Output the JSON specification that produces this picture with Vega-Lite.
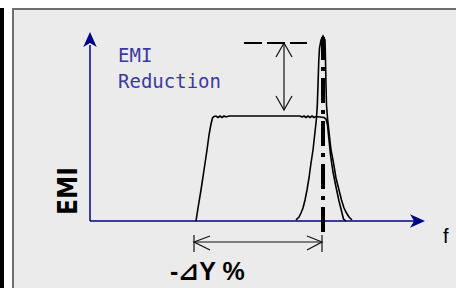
{
  "$schema": "https://vega.github.io/schema/vega-lite/v6.json",
  "width": 456,
  "height": 288,
  "autosize": {"type": "none"},
  "padding": 0,
  "background": "#ffffff",
  "config": {"view": {"stroke": null}},
  "datasets": {
    "curves": [
      {"id": "plateau", "o": 1, "x": 106, "y": 0},
      {"id": "plateau", "o": 2, "x": 108, "y": 13},
      {"id": "plateau", "o": 3, "x": 111, "y": 31},
      {"id": "plateau", "o": 4, "x": 114, "y": 51},
      {"id": "plateau", "o": 5, "x": 117, "y": 71},
      {"id": "plateau", "o": 6, "x": 119, "y": 86},
      {"id": "plateau", "o": 7, "x": 121, "y": 97},
      {"id": "plateau", "o": 8, "x": 122.5, "y": 103},
      {"id": "plateau", "o": 9, "x": 124, "y": 104.5},
      {"id": "plateau", "o": 10, "x": 126, "y": 105},
      {"id": "plateau", "o": 11, "x": 128, "y": 103.5},
      {"id": "plateau", "o": 12, "x": 130, "y": 105},
      {"id": "plateau", "o": 13, "x": 132, "y": 103.5},
      {"id": "plateau", "o": 14, "x": 134, "y": 105},
      {"id": "plateau", "o": 15, "x": 136, "y": 104},
      {"id": "plateau", "o": 16, "x": 139, "y": 105},
      {"id": "plateau", "o": 17, "x": 210, "y": 105},
      {"id": "plateau", "o": 18, "x": 212, "y": 104},
      {"id": "plateau", "o": 19, "x": 214, "y": 105},
      {"id": "plateau", "o": 20, "x": 216, "y": 103.5},
      {"id": "plateau", "o": 21, "x": 218, "y": 105},
      {"id": "plateau", "o": 22, "x": 220, "y": 103.5},
      {"id": "plateau", "o": 23, "x": 222, "y": 105},
      {"id": "plateau", "o": 24, "x": 224, "y": 103.5},
      {"id": "plateau", "o": 25, "x": 226, "y": 104.5},
      {"id": "plateau", "o": 26, "x": 230, "y": 104},
      {"id": "plateau", "o": 27, "x": 234, "y": 103.5},
      {"id": "plateau", "o": 28, "x": 236, "y": 102},
      {"id": "plateau", "o": 29, "x": 237.5, "y": 96},
      {"id": "plateau", "o": 30, "x": 239, "y": 81},
      {"id": "plateau", "o": 31, "x": 240.5, "y": 66},
      {"id": "plateau", "o": 32, "x": 243, "y": 49},
      {"id": "plateau", "o": 33, "x": 246, "y": 34},
      {"id": "plateau", "o": 34, "x": 249, "y": 20},
      {"id": "plateau", "o": 35, "x": 252, "y": 8},
      {"id": "plateau", "o": 36, "x": 253.5, "y": 2},
      {"id": "plateau", "o": 37, "x": 256, "y": 0},
      {"id": "spike", "o": 1, "x": 206, "y": 1},
      {"id": "spike", "o": 2, "x": 209, "y": 4},
      {"id": "spike", "o": 3, "x": 211, "y": 8},
      {"id": "spike", "o": 4, "x": 213, "y": 13},
      {"id": "spike", "o": 5, "x": 215, "y": 21},
      {"id": "spike", "o": 6, "x": 217, "y": 31},
      {"id": "spike", "o": 7, "x": 219, "y": 43},
      {"id": "spike", "o": 8, "x": 221, "y": 58},
      {"id": "spike", "o": 9, "x": 223, "y": 71},
      {"id": "spike", "o": 10, "x": 225, "y": 89},
      {"id": "spike", "o": 11, "x": 226.5, "y": 103},
      {"id": "spike", "o": 12, "x": 227.3, "y": 116},
      {"id": "spike", "o": 13, "x": 228, "y": 136},
      {"id": "spike", "o": 14, "x": 228.8, "y": 161},
      {"id": "spike", "o": 15, "x": 229.5, "y": 173},
      {"id": "spike", "o": 16, "x": 231, "y": 181},
      {"id": "spike", "o": 17, "x": 233, "y": 185},
      {"id": "spike", "o": 18, "x": 235, "y": 181},
      {"id": "spike", "o": 19, "x": 235.5, "y": 161},
      {"id": "spike", "o": 20, "x": 236, "y": 136},
      {"id": "spike", "o": 21, "x": 236.5, "y": 116},
      {"id": "spike", "o": 22, "x": 237.5, "y": 103},
      {"id": "spike", "o": 23, "x": 239, "y": 89},
      {"id": "spike", "o": 24, "x": 241, "y": 71},
      {"id": "spike", "o": 25, "x": 243.5, "y": 58},
      {"id": "spike", "o": 26, "x": 246, "y": 43},
      {"id": "spike", "o": 27, "x": 249, "y": 31},
      {"id": "spike", "o": 28, "x": 251.5, "y": 21},
      {"id": "spike", "o": 29, "x": 254, "y": 13},
      {"id": "spike", "o": 30, "x": 256.5, "y": 8},
      {"id": "spike", "o": 31, "x": 259, "y": 4},
      {"id": "spike", "o": 32, "x": 262, "y": 1}
    ],
    "thin": [
      {"id": "da", "o": 1, "x": 194, "y": 178},
      {"id": "da", "o": 2, "x": 194, "y": 111},
      {"id": "dah1", "o": 1, "x": 186, "y": 164},
      {"id": "dah1", "o": 2, "x": 194, "y": 178},
      {"id": "dah1", "o": 3, "x": 202, "y": 164},
      {"id": "dah2", "o": 1, "x": 186, "y": 125},
      {"id": "dah2", "o": 2, "x": 194, "y": 111},
      {"id": "dah2", "o": 3, "x": 202, "y": 125},
      {"id": "hs", "o": 1, "x": 104, "y": -21},
      {"id": "hs", "o": 2, "x": 232, "y": -21},
      {"id": "t1", "o": 1, "x": 104, "y": -14},
      {"id": "t1", "o": 2, "x": 104, "y": -31},
      {"id": "t2", "o": 1, "x": 232, "y": -14},
      {"id": "t2", "o": 2, "x": 232, "y": -31},
      {"id": "hh1", "o": 1, "x": 120, "y": -15},
      {"id": "hh1", "o": 2, "x": 104, "y": -21},
      {"id": "hh1", "o": 3, "x": 120, "y": -29},
      {"id": "hh2", "o": 1, "x": 217, "y": -15},
      {"id": "hh2", "o": 2, "x": 232, "y": -21},
      {"id": "hh2", "o": 3, "x": 217, "y": -29}
    ]
  },
  "layer": [
    {
      "data": {"values": [{"x": -90, "x2": -86, "y": -67, "y2": 213}]},
      "mark": {"type": "rect", "color": "#000000"},
      "encoding": {
        "x": {"field": "x", "type": "quantitative", "scale": {"domain": [-90, 366], "nice": false, "zero": false}, "axis": null},
        "x2": {"field": "x2"},
        "y": {"field": "y", "type": "quantitative", "scale": {"domain": [-67, 221], "nice": false, "zero": false}, "axis": null},
        "y2": {"field": "y2"}
      }
    },
    {
      "data": {"values": [{"x": -77, "x2": 380, "y": -80, "y2": 212}]},
      "mark": {"type": "rect", "fill": "#ebebeb", "stroke": "#6e6e6e", "strokeWidth": 2},
      "encoding": {
        "x": {"field": "x", "type": "quantitative", "scale": {"domain": [-90, 366], "nice": false, "zero": false}, "axis": null},
        "x2": {"field": "x2"},
        "y": {"field": "y", "type": "quantitative", "scale": {"domain": [-67, 221], "nice": false, "zero": false}, "axis": null},
        "y2": {"field": "y2"}
      }
    },
    {
      "data": {"values": [{"x": 0, "y": 0, "x2": 0, "y2": 176}, {"x": 0, "y": 0, "x2": 325, "y2": 0}]},
      "mark": {"type": "rule", "color": "#000088", "strokeWidth": 1.5},
      "encoding": {
        "x": {"field": "x", "type": "quantitative", "scale": {"domain": [-90, 366], "nice": false, "zero": false}, "axis": null},
        "x2": {"field": "x2"},
        "y": {"field": "y", "type": "quantitative", "scale": {"domain": [-67, 221], "nice": false, "zero": false}, "axis": null},
        "y2": {"field": "y2"}
      }
    },
    {
      "data": {"values": [{"x": 0, "y": 181.5}]},
      "mark": {"type": "point", "shape": "M0,-1L0.9,1L0,0.45L-0.9,1Z", "size": 225, "filled": true, "color": "#000088", "opacity": 1, "strokeWidth": 0},
      "encoding": {
        "x": {"field": "x", "type": "quantitative", "scale": {"domain": [-90, 366], "nice": false, "zero": false}, "axis": null},
        "y": {"field": "y", "type": "quantitative", "scale": {"domain": [-67, 221], "nice": false, "zero": false}, "axis": null}
      }
    },
    {
      "data": {"values": [{"x": 327.5, "y": 0}]},
      "mark": {"type": "point", "shape": "M1,0L-1,-0.9L-0.45,0L-1,0.9Z", "size": 225, "filled": true, "color": "#000088", "opacity": 1, "strokeWidth": 0},
      "encoding": {
        "x": {"field": "x", "type": "quantitative", "scale": {"domain": [-90, 366], "nice": false, "zero": false}, "axis": null},
        "y": {"field": "y", "type": "quantitative", "scale": {"domain": [-67, 221], "nice": false, "zero": false}, "axis": null}
      }
    },
    {
      "data": {"name": "curves"},
      "mark": {"type": "line", "color": "#000000", "strokeWidth": 1.6, "interpolate": "linear"},
      "encoding": {
        "x": {"field": "x", "type": "quantitative", "scale": {"domain": [-90, 366], "nice": false, "zero": false}, "axis": null},
        "y": {"field": "y", "type": "quantitative", "scale": {"domain": [-67, 221], "nice": false, "zero": false}, "axis": null},
        "detail": {"field": "id"},
        "order": {"field": "o", "type": "quantitative"}
      }
    },
    {
      "data": {"name": "thin"},
      "mark": {"type": "line", "color": "#111111", "strokeWidth": 1.2},
      "encoding": {
        "x": {"field": "x", "type": "quantitative", "scale": {"domain": [-90, 366], "nice": false, "zero": false}, "axis": null},
        "y": {"field": "y", "type": "quantitative", "scale": {"domain": [-67, 221], "nice": false, "zero": false}, "axis": null},
        "detail": {"field": "id"},
        "order": {"field": "o", "type": "quantitative"}
      }
    },
    {
      "data": {"values": [{"x": 154, "x2": 217, "y": 178}]},
      "mark": {"type": "rule", "color": "#000000", "strokeWidth": 2, "strokeDash": [18, 5]},
      "encoding": {
        "x": {"field": "x", "type": "quantitative", "scale": {"domain": [-90, 366], "nice": false, "zero": false}, "axis": null},
        "x2": {"field": "x2"},
        "y": {"field": "y", "type": "quantitative", "scale": {"domain": [-67, 221], "nice": false, "zero": false}, "axis": null}
      }
    },
    {
      "data": {"values": [{"x": 233, "y": -11, "y2": 184}]},
      "mark": {"type": "rule", "color": "#000000", "strokeWidth": 4, "strokeDash": [25, 7, 4, 7], "strokeCap": "butt"},
      "encoding": {
        "x": {"field": "x", "type": "quantitative", "scale": {"domain": [-90, 366], "nice": false, "zero": false}, "axis": null},
        "y": {"field": "y", "type": "quantitative", "scale": {"domain": [-67, 221], "nice": false, "zero": false}, "axis": null},
        "y2": {"field": "y2"}
      }
    },
    {
      "data": {"values": [{"t": "EMI", "x": 28, "y": 159}, {"t": "Reduction", "x": 28, "y": 133}]},
      "mark": {"type": "text", "align": "left", "baseline": "alphabetic", "font": "DejaVu Sans Mono", "fontSize": 19, "color": "#3a3a9e"},
      "encoding": {
        "x": {"field": "x", "type": "quantitative", "scale": {"domain": [-90, 366], "nice": false, "zero": false}, "axis": null},
        "y": {"field": "y", "type": "quantitative", "scale": {"domain": [-67, 221], "nice": false, "zero": false}, "axis": null},
        "text": {"field": "t"}
      }
    },
    {
      "data": {"values": [{"t": "EMI", "x": -13, "y": 30}]},
      "mark": {"type": "text", "align": "center", "baseline": "alphabetic", "angle": 270, "font": "Liberation Sans Narrow, DejaVu Sans Condensed, sans-serif", "fontWeight": "bold", "fontSize": 26, "color": "#000000"},
      "encoding": {
        "x": {"field": "x", "type": "quantitative", "scale": {"domain": [-90, 366], "nice": false, "zero": false}, "axis": null},
        "y": {"field": "y", "type": "quantitative", "scale": {"domain": [-67, 221], "nice": false, "zero": false}, "axis": null},
        "text": {"field": "t"}
      }
    },
    {
      "data": {"values": [{"t": "f", "x": 353, "y": -22}]},
      "mark": {"type": "text", "align": "left", "baseline": "alphabetic", "font": "Liberation Sans", "fontSize": 20, "color": "#000000"},
      "encoding": {
        "x": {"field": "x", "type": "quantitative", "scale": {"domain": [-90, 366], "nice": false, "zero": false}, "axis": null},
        "y": {"field": "y", "type": "quantitative", "scale": {"domain": [-67, 221], "nice": false, "zero": false}, "axis": null},
        "text": {"field": "t"}
      }
    },
    {
      "data": {"values": [{"t": "-⊿Y %", "x": 80, "y": -59}]},
      "mark": {"type": "text", "align": "left", "baseline": "alphabetic", "font": "Liberation Sans, DejaVu Sans", "fontWeight": "bold", "fontSize": 25, "color": "#000000"},
      "encoding": {
        "x": {"field": "x", "type": "quantitative", "scale": {"domain": [-90, 366], "nice": false, "zero": false}, "axis": null},
        "y": {"field": "y", "type": "quantitative", "scale": {"domain": [-67, 221], "nice": false, "zero": false}, "axis": null},
        "text": {"field": "t"}
      }
    }
  ]
}
